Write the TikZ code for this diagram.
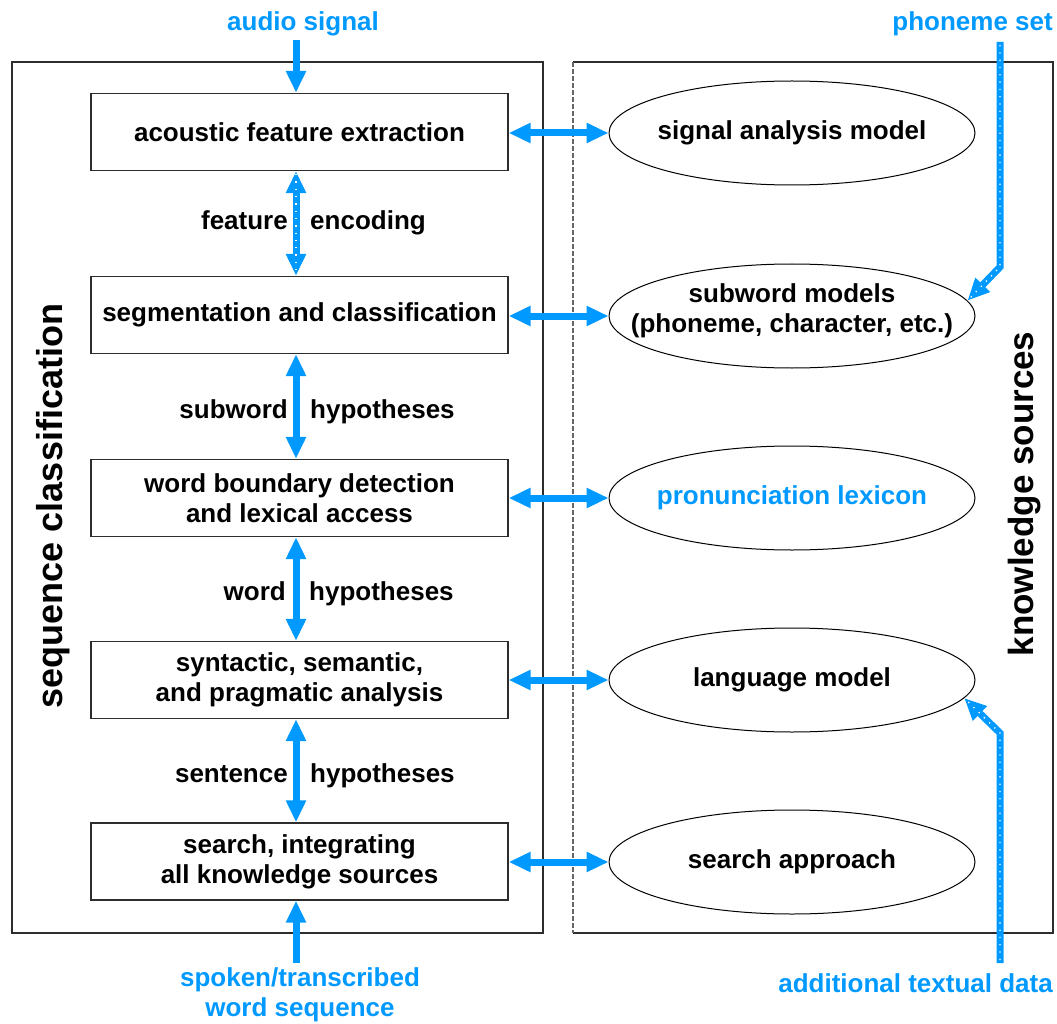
\documentclass[tikz,border=0pt]{standalone}
\usepackage{fontspec}
\setmainfont{Liberation Sans}
\usetikzlibrary{arrows.meta,shapes.geometric}
\definecolor{flowblue}{RGB}{0,153,255}
\definecolor{framegray}{RGB}{45,45,45}
\begin{document}
\begin{tikzpicture}[x=1pt,y=-1pt,
  >={Triangle[width=19pt,length=22pt]},
  every node/.style={font=\fontsize{26}{30}\selectfont\bfseries, inner sep=0pt},
  stage/.style={draw=framegray, line width=1.3pt, minimum width=417pt, minimum height=77pt, align=center},
  source/.style={draw=black, line width=1pt, ellipse, minimum width=366pt, minimum height=104pt},
  srctext/.style={align=center},
  flow/.style={draw=flowblue, line width=7pt},
  dots/.style={draw=white, line width=1.3pt, dash pattern=on 1.3pt off 6pt, shorten <=3pt, shorten >=3pt},
  inlabel/.style={text=flowblue},
  panel/.style={draw=framegray, line width=1.3pt},
  side/.style={rotate=90, anchor=base}]
\useasboundingbox (0,0) rectangle (1057,1024);

% panels
\draw[panel] (12,62) rectangle (543,933);
\draw[panel] (573,62) -- (1053,62) -- (1053,933) -- (573,933);
\draw[draw=gray!80!black, line width=1.3pt, dash pattern=on 5pt off 2pt] (573,62) -- (573,933);
\node[side, font=\fontsize{36}{40}\selectfont\bfseries] (seqlab) at (62,506) {sequence classification};
\node[side, font=\fontsize{35}{40}\selectfont\bfseries] (kslab) at (1033,494) {knowledge sources};

% processing stages
\node[stage] (b1) at (299.5,132) {acoustic feature extraction};
\node[stage] (b2) at (299.5,315) {segmentation and classification};
\node[stage] (b3) at (299.5,498) {word boundary detection\\and lexical access};
\node[stage] (b4) at (299.5,680) {syntactic, semantic,\\and pragmatic analysis};
\node[stage] (b5) at (299.5,861.5) {search, integrating\\all knowledge sources};

% knowledge sources
\node[source] (e1) at (792,133) {};
\node[source] (e2) at (792,316) {};
\node[source] (e3) at (792,498) {};
\node[source] (e4) at (792,680) {};
\node[source] (e5) at (792,862) {};
\node[srctext] (t1) at (e1) {signal analysis model};
\node[srctext] (t2) at ([yshift=5pt]e2) {subword models\\(phoneme, character, etc.)};
\node[srctext, text=flowblue] (t3) at (e3) {pronunciation lexicon};
\node[srctext] (t4) at (e4) {language model};
\node[srctext] (t5) at (e5) {search approach};

% stage to source links
\foreach \i in {1,...,5}
  \draw[flow,<->] (e\i.west -| b\i.east) -- (e\i.west);

% vertical flow between stages
\coordinate (ax) at (296,0);
\draw[flow,<->] (b1.south -| ax) -- (b2.north -| ax);
\draw[dots] (b1.south -| ax) -- (b2.north -| ax);
\draw[flow,<->] (b2.south -| ax) -- (b3.north -| ax);
\draw[flow,<->] (b3.south -| ax) -- (b4.north -| ax);
\draw[flow,<->] (b4.south -| ax) -- (b5.north -| ax);

\node[anchor=base east] (l1a) at (288,230) {feature};
\node[anchor=base west] (l1b) at (310,230) {encoding};
\node[anchor=base east] (l2a) at (288,418) {subword};
\node[anchor=base west] (l2b) at (310,418) {hypotheses};
\node[anchor=base east] (l3a) at (286,600) {word};
\node[anchor=base west] (l3b) at (309,600) {hypotheses};
\node[anchor=base east] (l4a) at (288,782) {sentence};
\node[anchor=base west] (l4b) at (310,782) {hypotheses};

% inputs
\node[inlabel, anchor=base] (audio) at (303,31) {audio signal};
\coordinate (audiostart) at (296,40);
\draw[flow,->] (audiostart) -- (b1.north -| audiostart);

\node[inlabel, align=center] (spoken) at (300,995) {spoken/transcribed\\word sequence};
\coordinate (spokenstart) at (296,963);
\draw[flow,->] (spokenstart) -- (b5.south -| spokenstart);

\node[inlabel, anchor=base east] (phon) at (1053,31) {phoneme set};
\coordinate (ph1) at (1000,42);
\coordinate (ph2) at (1000,267);
\draw[flow,->] (ph1) -- (ph2) -- (e2.5);
\draw[dots] (ph1) -- (ph2) -- (e2.5);

\node[inlabel, anchor=base east] (textdata) at (1053,992) {additional textual data};
\coordinate (td1) at (1000,963);
\coordinate (td2) at (1000,733);
\draw[flow,->] (td1) -- (td2) -- (e4.-6);
\draw[dots] (td1) -- (td2) -- (e4.-6);
\end{tikzpicture}
\end{document}
